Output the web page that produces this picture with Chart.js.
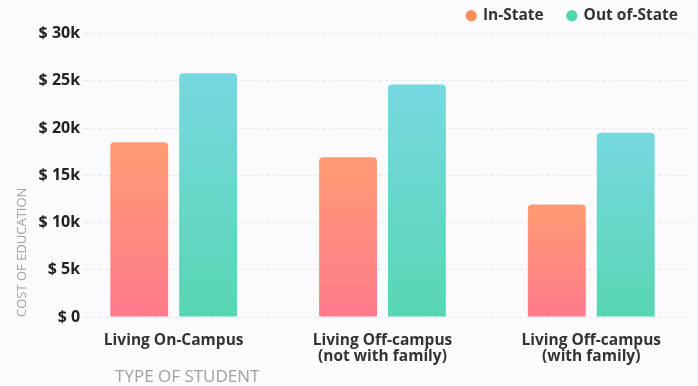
<!DOCTYPE html>
<html>
<head>
<meta charset="utf-8">
<script src="https://cdn.jsdelivr.net/npm/chart.js@4"></script>
<style>
  html, body { margin: 0; padding: 0; background: #fbfbfd; }
  #wrap { width: 698px; height: 386px; }
</style>
</head>
<body>
<div id="wrap"><canvas id="costChart"></canvas></div>
<script>
const categories = [
    ['Living On-Campus'],
    ['Living Off-campus', '(not with family)'],
    ['Living Off-campus', '(with family)']
];
const inStateCost = [18500, 16900, 11900];
const outOfStateCost = [25800, 24600, 19500];
const yTicks = [0, 5000, 10000, 15000, 20000, 25000, 30000];

// gradient per bar, from top of bar to the baseline
function barGradient(topColor, bottomColor) {
    return function (ctx) {
        const chart = ctx.chart;
        if (!chart.chartArea || ctx.raw === undefined) return topColor;
        const y = chart.scales.y;
        const top = y.getPixelForValue(ctx.raw);
        const base = y.getPixelForValue(0);
        if (!isFinite(top) || !isFinite(base) || top === base) return topColor;
        const g = chart.ctx.createLinearGradient(0, top, 0, base);
        g.addColorStop(0, topColor);
        g.addColorStop(1, bottomColor);
        return g;
    };
}

const fontFamily = '"Open Sans", sans-serif';
const nbsp = n => '\u00a0'.repeat(n);

new Chart(document.getElementById('costChart'), {
    type: 'bar',
    data: {
        labels: categories,
        datasets: [{
            label: 'In-State',
            data: inStateCost,
            backgroundColor: barGradient('#ff9b74', '#ff7b8c'),
            borderRadius: 4,
            borderSkipped: 'start',
            categoryPercentage: 0.66,
            barPercentage: 0.84
        }, {
            label: 'Out of-State',
            data: outOfStateCost,
            backgroundColor: barGradient('#77d8e0', '#58d6b2'),
            borderRadius: 4,
            borderSkipped: 'start',
            categoryPercentage: 0.66,
            barPercentage: 0.84
        }]
    },
    options: {
        responsive: true,
        maintainAspectRatio: false,
        animation: false,
        layout: { padding: { left: 14, right: 4, top: 0, bottom: 0 } },
        plugins: {
            legend: {
                position: 'top',
                align: 'end',
                labels: {
                    usePointStyle: true,
                    pointStyle: 'circle',
                    boxWidth: 8,
                    boxHeight: 8,
                    padding: 8,
                    color: '#333',
                    font: { family: fontFamily, size: 15.5, weight: 'bold' },
                    generateLabels: function (chart) {
                        const dots = ['#ff8c5c', '#4fd7aa'];
                        return chart.data.datasets.map((ds, i) => ({
                            // trailing spaces widen the gaps like the original legend
                            text: ds.label + (i === 0 ? nbsp(4) : nbsp(2)),
                            fillStyle: dots[i],
                            strokeStyle: dots[i],
                            lineWidth: 0,
                            pointStyle: 'circle',
                            datasetIndex: i,
                            fontColor: '#333'
                        }));
                    }
                }
            },
            tooltip: { enabled: false }
        },
        scales: {
            x: {
                grid: { display: false, drawTicks: false },
                border: { display: false },
                // the groups sit a little left of an even split, as in the original
                afterBuildTicks: function (axis) {
                    axis.ticks = categories.map((c, i) => ({ value: i }));
                    axis._startValue = -0.429;
                    axis._valueRange = 2.921;
                },
                afterFit: function (axis) {
                    axis.height = 69;
                },
                ticks: {
                    color: '#333',
                    font: { family: fontFamily, size: 15.5, weight: 'bold', lineHeight: 1.0 },
                    padding: 16
                },
                title: {
                    display: true,
                    text: nbsp(7) + 'TYPE OF STUDENT',
                    align: 'start',
                    color: '#a0a0a0',
                    font: { family: fontFamily, size: 17, lineHeight: 1.0 },
                    padding: { top: 8, bottom: 0 }
                }
            },
            y: {
                min: 0,
                max: 30000,
                afterBuildTicks: function (axis) {
                    axis.ticks = yTicks.map(v => ({ value: v }));
                },
                grid: { color: '#e6e6ec', lineWidth: 1, drawTicks: false },
                border: { display: false, dash: [4, 3] },
                ticks: {
                    color: '#222',
                    font: { family: fontFamily, size: 16, weight: 'bold' },
                    padding: 4,
                    callback: v => v === 0 ? '$ 0' : '$ ' + (v / 1000) + 'k'
                },
                title: {
                    display: true,
                    text: 'COST OF EDUCATION',
                    align: 'start',
                    color: '#a0a0a0',
                    font: { family: fontFamily, size: 13 },
                    padding: { top: 0, bottom: 5 }
                }
            }
        }
    }
});
</script>
</body>
</html>
